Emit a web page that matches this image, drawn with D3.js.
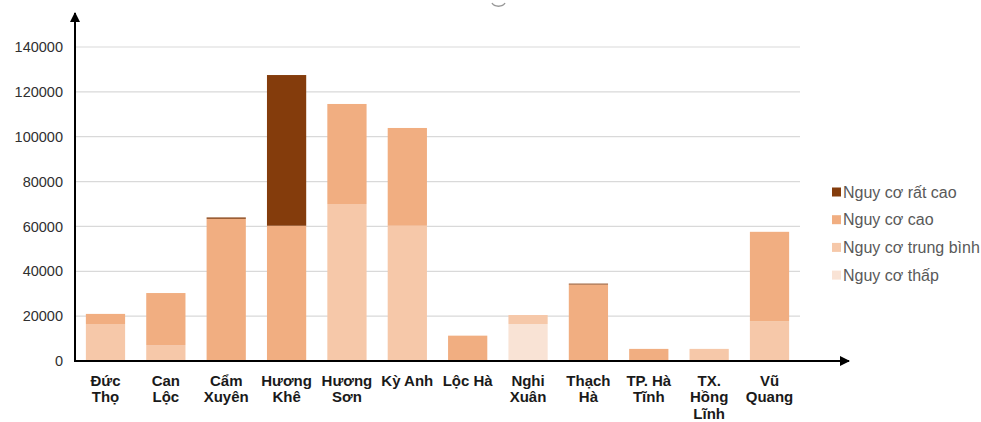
<!DOCTYPE html>
<html>
<head>
<meta charset="utf-8">
<script src="https://cdn.jsdelivr.net/npm/d3@7"></script>
<style>
  html, body { margin: 0; padding: 0; background: #fff; }
  svg { display: block; }
</style>
</head>
<body>
<svg id="chart" width="981" height="422"></svg>
<script>
// Districts (label lines)
const districts = [
  ["Đức", "Thọ"], ["Can", "Lộc"], ["Cẩm", "Xuyên"], ["Hương", "Khê"],
  ["Hương", "Sơn"], ["Kỳ Anh"], ["Lộc Hà"], ["Nghi", "Xuân"],
  ["Thạch", "Hà"], ["TP. Hà", "Tĩnh"], ["TX.", "Hồng", "Lĩnh"], ["Vũ", "Quang"]
];
// Area per risk level
const thap    = [0, 0, 0, 0, 0, 0, 0, 16500, 0, 0, 0, 0];
const trungBinh = [16500, 7100, 0, 0, 70000, 60300, 0, 4000, 0, 0, 5400, 17800];
const cao     = [4500, 23200, 63400, 60300, 44600, 43600, 11300, 0, 34100, 5400, 0, 39800];
const ratCao  = [0, 0, 600, 67200, 0, 0, 0, 0, 400, 0, 0, 0];
const yTicks = [0, 20000, 40000, 60000, 80000, 100000, 120000, 140000];

const seriesNames = ["Nguy cơ thấp", "Nguy cơ trung bình", "Nguy cơ cao", "Nguy cơ rất cao"];
const seriesColors = ["#F9E3D5", "#F6C8A9", "#F1AE81", "#843C0C"];
const seriesValues = [thap, trungBinh, cao, ratCao];

const rows = districts.map((d, i) => {
  const r = { key: i };
  seriesNames.forEach((s, j) => r[s] = seriesValues[j][i]);
  return r;
});
const stacked = d3.stack().keys(seriesNames)(rows);

const svg = d3.select("#chart");
const mLeft = 75, mRight = 800, mTop = 47, mBottom = 361;

const x = d3.scaleBand().domain(districts.map((d, i) => i)).range([mLeft, mRight]).paddingInner(0.35).paddingOuter(0.18);
const y = d3.scaleLinear().domain([0, 140000]).range([mBottom, mTop]);

// gridlines
svg.append("g").selectAll("line").data(yTicks.slice(1)).join("line")
  .attr("x1", mLeft).attr("x2", mRight)
  .attr("y1", d => y(d)).attr("y2", d => y(d))
  .attr("stroke", "#d9d9d9").attr("stroke-width", 1.2);

// y tick labels
const yAxis = d3.axisLeft(y).tickValues(yTicks).tickSize(0).tickPadding(12).tickFormat(d3.format("d"));
const gy = svg.append("g").attr("transform", `translate(${mLeft},0)`).call(yAxis);
gy.select(".domain").remove();
gy.selectAll("text").attr("font-family", "Liberation Sans, Arial, sans-serif")
  .attr("font-size", 14.5).attr("fill", "#303030");

// bars
svg.append("g").selectAll("g").data(stacked).join("g")
  .attr("fill", (d, i) => seriesColors[i])
  .selectAll("rect").data(d => d).join("rect")
  .attr("x", (d, i) => x(i))
  .attr("width", x.bandwidth())
  .attr("y", d => y(d[1]))
  .attr("height", d => y(d[0]) - y(d[1]));

// axes with arrows
svg.append("defs").append("marker")
  .attr("id", "arrow").attr("viewBox", "0 0 10 10").attr("refX", 9).attr("refY", 5)
  .attr("markerWidth", 5).attr("markerHeight", 5).attr("orient", "auto")
  .append("path").attr("d", "M0,0 L10,5 L0,10 Z").attr("fill", "#000");
svg.append("line").attr("x1", mLeft).attr("x2", mLeft).attr("y1", mBottom + 1).attr("y2", 13)
  .attr("stroke", "#000").attr("stroke-width", 2).attr("marker-end", "url(#arrow)");
svg.append("line").attr("x1", mLeft - 1).attr("x2", 849).attr("y1", mBottom).attr("y2", mBottom)
  .attr("stroke", "#000").attr("stroke-width", 2).attr("marker-end", "url(#arrow)");

// category labels
const xl = svg.append("g").attr("font-family", "Liberation Sans, Arial, sans-serif")
  .attr("font-size", 15).attr("font-weight", "bold").attr("fill", "#1a1a1a").attr("text-anchor", "middle");
districts.forEach((lines, i) => {
  const t = xl.append("text").attr("x", x(i) + x.bandwidth() / 2).attr("y", 386);
  lines.forEach((ln, k) => t.append("tspan").attr("x", x(i) + x.bandwidth() / 2).attr("dy", k ? 16.3 : 0).text(ln));
});

// legend
const legendOrder = [3, 2, 1, 0];
const lg = svg.append("g").attr("font-family", "Liberation Sans, Arial, sans-serif").attr("font-size", 16).attr("fill", "#595959");
legendOrder.forEach((j, k) => {
  const yy = 192 + k * 27.7;
  lg.append("rect").attr("x", 832).attr("y", yy - 4.5).attr("width", 9).attr("height", 9).attr("fill", seriesColors[j]);
  lg.append("text").attr("x", 843).attr("y", yy + 5.5).text(seriesNames[j]);
});

// small decorative arc at the top edge
svg.append("path").attr("d", "M492,3 A7,5 0 0 0 505,3").attr("fill", "none").attr("stroke", "#999").attr("stroke-width", 1.5);
</script>
</body>
</html>
